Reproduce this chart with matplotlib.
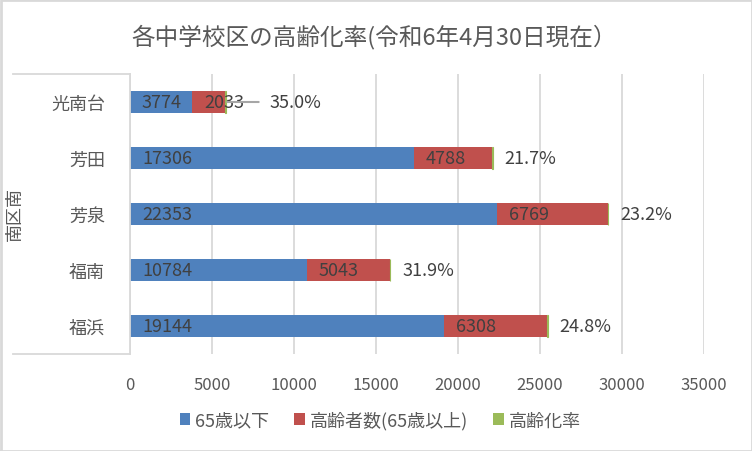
import matplotlib
matplotlib.use("Agg")
import matplotlib.pyplot as plt
from matplotlib.patches import Patch
from matplotlib.lines import Line2D

plt.rcParams['font.family'] = ['Noto Sans CJK JP', 'DejaVu Sans']

categories = ["光南台", "芳田", "芳泉", "福南", "福浜"]
under65 = [3774, 17306, 22353, 10784, 19144]
elderly = [2033, 4788, 6769, 5043, 6308]
rate = [35.0, 21.7, 23.2, 31.9, 24.8]
group_label = "南区南"
title = "各中学校区の高齢化率(令和6年4月30日現在）"
series_names = ["65歳以下", "高齢者数(65歳以上)", "高齢化率"]
xticks = [0, 5000, 10000, 15000, 20000, 25000, 30000, 35000]

C_BLUE = "#4F81BD"
C_RED = "#C0504D"
C_GREEN = "#9BBB59"
TXT = "#404040"
GRID = "#D9D9D9"

W, H = 752, 452
fig = plt.figure(figsize=(W / 100, H / 100), dpi=100)

L, R, T, B = 130, 704, 75, 355
ax = fig.add_axes([L / W, 1 - B / H, (R - L) / W, (B - T) / H])

y = list(range(len(categories)))
bh = 0.38
totals = [a + b for a, b in zip(under65, elderly)]
ax.barh(y, under65, height=bh, color=C_BLUE)
ax.barh(y, elderly, left=under65, height=bh, color=C_RED)
ax.barh(y, rate, left=totals, height=bh, color=C_GREEN, edgecolor=C_GREEN, linewidth=0.8)

ax.set_xlim(0, 35000)
ax.set_ylim(len(categories) - 0.5, -0.5)
ax.set_xticks(xticks)
ax.set_xticklabels([str(v) for v in xticks])
ax.set_yticks(y)
ax.set_yticklabels(categories)
ax.tick_params(axis='x', length=0, pad=16, labelsize=12, labelcolor="#595959")
ax.tick_params(axis='y', length=0, pad=18, labelsize=13, labelcolor="#595959")
ax.grid(axis='x', color=GRID, linewidth=1.3)
ax.set_axisbelow(True)
for s in ["top", "bottom", "right"]:
    ax.spines[s].set_visible(False)
ax.spines["left"].set_color(GRID)
ax.spines["left"].set_linewidth(1.3)

fs_lab = 13
for i in y:
    ax.annotate(str(under65[i]), (0, i), xytext=(12, 0), textcoords='offset pixels',
                ha='left', va='center', fontsize=fs_lab, color=TXT)
    ax.annotate(str(elderly[i]), (under65[i], i), xytext=(12, 0), textcoords='offset pixels',
                ha='left', va='center', fontsize=fs_lab, color=TXT)
    end = totals[i] + rate[i]
    if i == 0:
        ax.annotate(f"{rate[i]:.1f}%", (end, i), xytext=(44, 0), textcoords='offset pixels',
                    ha='left', va='center', fontsize=fs_lab, color=TXT,
                    arrowprops=dict(arrowstyle='-', color="#A6A6A6", lw=1.5,
                                    shrinkA=6, shrinkB=1, relpos=(0, 0.5)))
    else:
        ax.annotate(f"{rate[i]:.1f}%", (end, i), xytext=(12, 0), textcoords='offset pixels',
                    ha='left', va='center', fontsize=fs_lab, color=TXT)

# category group box
for yy in (T, B):
    fig.add_artist(Line2D([13 / W, L / W], [1 - yy / H, 1 - yy / H], color=GRID, lw=1.3))
fig.text(15 / W, 1 - 214 / H, group_label, rotation=90, ha='center', va='center',
         fontsize=13, color="#595959")

fig.text(374 / W, 1 - 37 / H, title, ha='center', va='center', fontsize=17, color="#595959")

handles = [Patch(facecolor=c, edgecolor='none') for c in (C_BLUE, C_RED, C_GREEN)]
fig.legend(handles, series_names, loc='center', bbox_to_anchor=(380 / W, 1 - 421 / H),
           ncol=3, frameon=False, fontsize=13, handlelength=0.6, handleheight=0.6,
           handletextpad=0.25, columnspacing=1.4, labelcolor="#595959")

# outer border
fig.add_artist(Line2D([0.5 / W, 1 - 0.5 / W, 1 - 0.5 / W, 0.5 / W, 0.5 / W],
                      [0.5 / H, 0.5 / H, 1 - 0.5 / H, 1 - 0.5 / H, 0.5 / H],
                      color=GRID, lw=2))

fig.savefig("out.png", dpi=100)
